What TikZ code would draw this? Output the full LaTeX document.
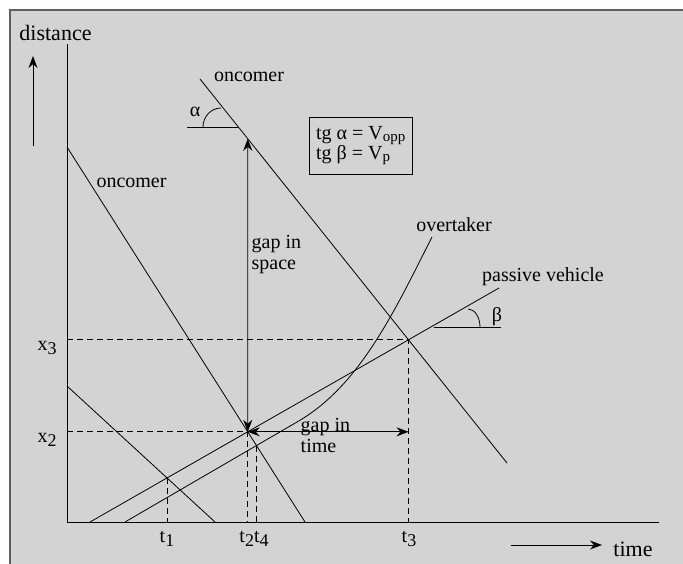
\documentclass[tikz,border=0pt]{standalone}
\usepackage{fontspec}
\setmainfont{Liberation Serif}
\usetikzlibrary{arrows.meta}
\definecolor{panel}{RGB}{211,211,211}
\definecolor{framegray}{RGB}{95,95,95}
\newcommand{\lowsub}[1]{\raisebox{-4.5pt}{\fontsize{18}{18}\selectfont #1}}
\newcommand{\lowtxt}[1]{\raisebox{-2pt}{\fontsize{15}{15}\selectfont #1}}

\begin{document}
\begin{tikzpicture}[x=1pt,y=-1pt,>={Stealth[length=12pt,width=9pt]},
		every node/.style={font=\fontsize{20}{21}\selectfont, inner sep=0pt},
		line/.style={line width=0.8pt},
		guide/.style={line width=0.8pt, dash pattern=on 6pt off 4pt},
		axislbl/.style={font=\fontsize{22}{24}\selectfont}]
		\useasboundingbox (0,0) rectangle (683,563);
		% Panel
		\fill[panel] (10,10) rectangle (690,570);
		\draw[framegray, line width=1.5pt] (10,570) -- (10,10) -- (690,10);
		% Axes
		\coordinate (O) at (67,522);
		\coordinate (ytop) at (67,44);
		\coordinate (xend) at (659,522);
		\draw[line width=1pt] (ytop) -- (O) -- (xend);
		\node[axislbl, anchor=base] (ldist) at (55.5,40.5) {distance};
		\node[axislbl, anchor=base] (ltime) at (633,556.5) {time};
		\coordinate (darr) at (33,146);
		\coordinate (tarr) at (511,545);
		\draw[line width=1pt,->] (darr) -- ++(0,-90);
		\draw[line width=1pt,->] (tarr) -- ++(91,0);
		% Vehicle paths
		\coordinate (onAs) at (67,147);  \coordinate (onAe) at (305,522);
		\coordinate (onBs) at (200,79);  \coordinate (onBe) at (507,463);
		\coordinate (onCs) at (67,386);  \coordinate (onCe) at (215,522);
		\coordinate (pvs) at (90,522);   \coordinate (pve) at (499,288);
		\coordinate (ovs) at (125,522);  \coordinate (ovk) at (297,422);
		\coordinate (ovt) at (432,237);
		\draw[line] (onAs) -- (onAe);
		\draw[line] (onBs) -- (onBe);
		\draw[line] (onCs) -- (onCe);
		\draw[line] (pvs) -- (pve);
		\draw[line] (ovs) -- (ovk) .. controls (360,386) and (395,310) .. (ovt);
		% Crossing points
		\coordinate (P1) at (intersection of onCs--onCe and pvs--pve);
		\coordinate (P2) at (intersection of onAs--onAe and pvs--pve);
		\coordinate (P3) at (intersection of onBs--onBe and pvs--pve);
		\coordinate (P4) at (intersection of onAs--onAe and ovs--ovk);
		\coordinate (Q2) at (intersection of onBs--onBe and P2--{P2 |- ytop});
		% Dashed guides
		\draw[guide] (O |- P2) -- (P2) -- (P2 |- O);
		\draw[guide] (O |- P3) -- (P3) -- (P3 |- O);
		\draw[guide] (P1) -- (P1 |- O);
		\draw[guide] (P4) -- (P4 |- O);
		% Gaps
		\draw[line,<->] (P2) -- (Q2);
		\draw[line,<->] (P2) -- (P3 |- P2);
		\node[anchor=base west, align=left] (lspace) at (251.5,269.5) {gap in\\space};
		\node[anchor=base west, align=left] (lgtime) at (300.5,452) {gap in\\time};
		% Angles
		\draw[line] (187,127) -- (238,127);
		\draw[line] (203,127) arc[start angle=180, end angle=270, x radius=18, y radius=19];
		\node[anchor=base] (lalpha) at (195,116) {α};
		\draw[line] (434,327) -- (501,327);
		\draw[line] (480,327) arc[start angle=0, end angle=-90, x radius=12, y radius=18];
		\node[anchor=base] (lbeta) at (497,321.5) {β};
		\node[draw, line width=0.8pt, align=left, minimum width=103pt, minimum height=57pt,
			font=\fontsize{20}{20}\selectfont] (formula) at (360.8,145.8)
			{tg α = V\lowtxt{opp}\\tg β = V\lowtxt{p}};
		% Path labels
		\node[anchor=base] (lonB) at (249,81) {oncomer};
		\node[anchor=base] (lonA) at (131.5,187.5) {oncomer};
		\node[anchor=base] (lover) at (454,231.5) {overtaker};
		\node[anchor=base] (lpass) at (543,281) {passive vehicle};
		% Axis marks
		\node[anchor=base] (lx3) at (47,350) {x\lowsub{3}};
		\node[anchor=base] (lx2) at (47,442) {x\lowsub{2}};
		\node[anchor=base] (lt1) at (167,542) {t\lowsub{1}};
		\node[anchor=base] (lt24) at (254,542) {t\lowsub{2}t\lowsub{4}};
		\node[anchor=base] (lt3) at (409,542) {t\lowsub{3}};
\end{tikzpicture}
\end{document}
